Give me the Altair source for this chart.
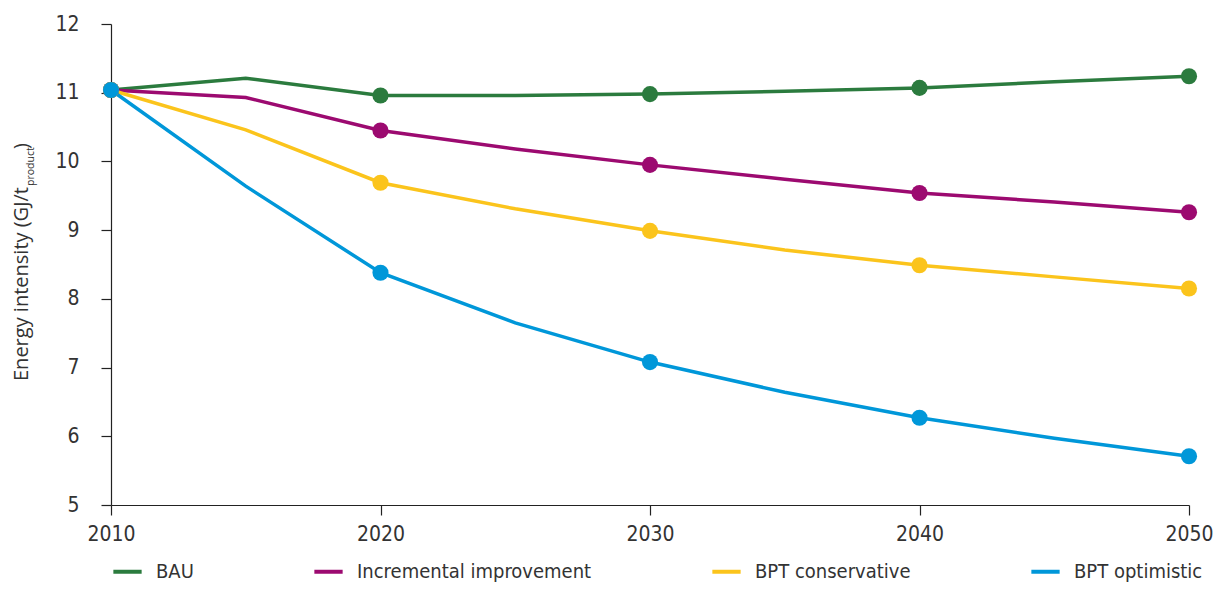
import altair as alt
import pandas as pd

years = [2010, 2015, 2020, 2025, 2030, 2035, 2040, 2045, 2050]
bau = [11.04, 11.21, 10.96, 10.96, 10.98, 11.02, 11.07, 11.16, 11.24]
incremental = [11.04, 10.93, 10.45, 10.18, 9.95, 9.74, 9.54, 9.41, 9.26]
conservative = [11.04, 10.46, 9.69, 9.31, 8.99, 8.71, 8.49, 8.32, 8.15]
optimistic = [11.04, 9.64, 8.38, 7.65, 7.08, 6.64, 6.27, 5.97, 5.71]

series_names = ["BAU", "Incremental improvement", "BPT conservative", "BPT optimistic"]
series_values = [bau, incremental, conservative, optimistic]
colors = ["#2b7b3e", "#9c0a70", "#fbc41c", "#0097d9"]
marker_years = [2010, 2020, 2030, 2040, 2050]
y_ticks = [5, 6, 7, 8, 9, 10, 11, 12]

rows = []
for i, (name, vals) in enumerate(zip(series_names, series_values)):
    for yr, v in zip(years, vals):
        rows.append({"year": yr, "value": v, "series": name, "order": i})
df = pd.DataFrame(rows)
df_pts = df[df["year"].isin(marker_years)]

TICK_FONT = "Liberation Sans Narrow, DejaVu Sans Condensed, sans-serif"
TITLE_FONT = "Open Sans, sans-serif"

x_enc = alt.X("year:Q", scale=alt.Scale(domain=[2010, 2050], nice=False, zero=False),
              axis=alt.Axis(values=marker_years, format="d", title=None, grid=False,
                            tickSize=10, labelPadding=8, labelFontSize=21,
                            labelFont=TICK_FONT, labelColor="#333333",
                            domainColor="#222222", tickColor="#222222",
                            labelFlush=False))
y_enc = alt.Y("value:Q", scale=alt.Scale(domain=[5, 12], nice=False, zero=False),
              axis=alt.Axis(values=y_ticks, format="d", title=None, grid=False,
                            tickSize=10, labelPadding=22, labelFontSize=21,
                            labelFont=TICK_FONT, labelColor="#333333",
                            domainColor="#222222", tickColor="#222222"))
color_enc = alt.Color("series:N", scale=alt.Scale(domain=series_names, range=colors),
                      legend=alt.Legend(orient="none", legendX=0, legendY=531,
                                        direction="horizontal", columns=4,
                                        columnPadding=112, title=None,
                                        symbolType="stroke", symbolSize=800,
                                        symbolStrokeWidth=4, labelFontSize=20,
                                        labelFont=TICK_FONT, labelColor="#333333",
                                        labelOffset=12, labelLimit=0, padding=0))

lines = alt.Chart(df).mark_line(strokeWidth=3.5).encode(
    x=x_enc, y=y_enc, color=color_enc, detail="series:N", order="year:Q")
points = alt.Chart(df_pts).mark_point(filled=True, size=260, opacity=1).encode(
    x="year:Q", y="value:Q",
    color=alt.Color("series:N", scale=alt.Scale(domain=series_names, range=colors), legend=None),
    order="order:Q")

t1 = alt.Chart(pd.DataFrame({"t": ["Energy intensity (GJ/t"]})).mark_text(
    angle=270, align="right", baseline="middle", font=TITLE_FONT, fontSize=20,
    color="#333333").encode(text="t:N", x=alt.value(-89), y=alt.value(163))
t2 = alt.Chart(pd.DataFrame({"t": ["product"]})).mark_text(
    angle=270, align="left", baseline="middle", font=TITLE_FONT, fontSize=10.5,
    color="#333333").encode(text="t:N", x=alt.value(-80), y=alt.value(162))
t3 = alt.Chart(pd.DataFrame({"t": [")"]})).mark_text(
    angle=270, align="left", baseline="middle", font=TITLE_FONT, fontSize=20,
    color="#333333").encode(text="t:N", x=alt.value(-89), y=alt.value(125))

chart = alt.layer(lines, points, t1, t2, t3).properties(
    width=1078, height=481,
    autosize=alt.AutoSizeParams(type="none"),
    padding={"left": 103, "top": 16, "right": 26, "bottom": 77},
).configure_view(stroke=None).configure_axis(domainWidth=1.2, tickWidth=1.2)

chart.save("out.html", embed_options={"renderer": "svg", "actions": False})
